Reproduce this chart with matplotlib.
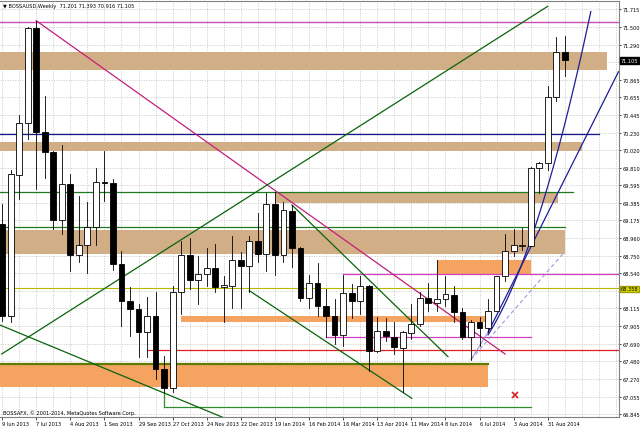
import matplotlib
matplotlib.use('Agg')
import matplotlib.pyplot as plt
from matplotlib.patches import Rectangle
import numpy as np

# ---------------- data ----------------
date_labels = ['9 Jun 2013', '7 Jul 2013', '4 Aug 2013', '1 Sep 2013', '29 Sep 2013',
               '27 Oct 2013', '24 Nov 2013', '22 Dec 2013', '19 Jan 2014', '16 Feb 2014',
               '16 Mar 2014', '13 Apr 2014', '11 May 2014', '8 Jun 2014', '6 Jul 2014',
               '3 Aug 2014', '31 Aug 2014']
date_idx = list(range(0, 65, 4))

opens = [69.13, 68.02, 69.725, 70.343, 71.486, 70.238, 69.997, 69.18, 69.613, 68.758,
         68.882, 69.099, 69.64, 69.625, 68.65, 68.208, 68.108, 67.828, 68.028, 67.387,
         67.155, 68.31, 68.762, 68.461, 68.526, 68.598, 68.37, 68.389, 68.698, 68.63,
         68.93, 68.77, 69.372, 68.758, 69.291, 68.839, 68.237, 68.418, 68.14, 68.028,
         67.796, 68.297, 68.208, 68.382, 67.60, 67.84, 67.775, 67.636, 67.816, 67.928,
         68.237, 68.181, 68.229, 68.28, 68.076, 67.768, 67.948, 67.876, 68.088, 68.502,
         68.803, 68.87, 68.87, 69.805, 69.861, 70.663, 71.201]
highs = [69.37, 69.785, 70.443, 71.50, 71.578, 70.675, 70.013, 70.085, 69.733, 69.472,
         69.40, 69.802, 70.013, 69.673, 68.81, 68.37, 68.169, 68.252, 68.313, 67.547,
         68.389, 68.93, 68.96, 68.75, 68.839, 68.891, 68.506, 68.984, 68.791, 68.99,
         69.26, 69.505, 69.513, 69.393, 69.36, 68.851, 68.52, 68.662, 68.35, 68.229,
         68.52, 68.409, 68.50, 68.398, 68.009, 67.997, 67.955, 67.847, 68.169, 68.313,
         68.42, 68.702, 68.51, 68.382, 68.117, 67.98, 68.009, 68.229, 68.51, 69.01,
         69.071, 69.08, 69.814, 69.881, 70.788, 71.385, 71.393]
lows = [67.97, 67.955, 69.43, 70.154, 69.553, 69.685, 69.07, 69.011, 68.57, 68.67,
        68.542, 68.882, 69.412, 68.582, 67.907, 67.787, 67.527, 67.534, 67.266, 67.11,
        67.105, 68.05, 68.349, 68.169, 68.389, 68.31, 67.955, 68.117, 68.117, 68.317,
        68.67, 68.57, 68.52, 68.67, 68.61, 68.208, 68.117, 68.028, 67.775, 67.687,
        67.667, 67.997, 68.05, 67.366, 67.588, 67.727, 67.567, 67.106, 67.748, 67.905,
        68.088, 68.084, 68.14, 67.955, 67.748, 67.50, 67.667, 67.828, 68.08, 68.45,
        68.75, 68.82, 68.863, 69.505, 69.785, 70.615, 70.916]
closes = [68.02, 69.735, 70.343, 71.486, 70.242, 69.997, 69.18, 69.613, 68.758, 68.882,
          69.099, 69.64, 69.625, 68.65, 68.208, 68.108, 67.828, 68.028, 67.387, 67.155,
          68.31, 68.762, 68.461, 68.526, 68.598, 68.37, 68.397, 68.702, 68.622, 68.93,
          68.77, 69.372, 68.758, 69.303, 68.839, 68.237, 68.418, 68.148, 68.02, 67.796,
          68.301, 68.208, 68.382, 67.60, 67.84, 67.78, 67.648, 67.828, 67.928, 68.237,
          68.181, 68.229, 68.29, 68.076, 67.768, 67.948, 67.876, 68.088, 68.50, 68.803,
          68.879, 68.875, 69.805, 69.865, 70.663, 71.201, 71.105]

price_ticks = [71.715, 71.500, 71.290, 71.080, 70.865, 70.655, 70.445, 70.230, 70.020,
               69.810, 69.595, 69.385, 69.175, 68.960, 68.750, 68.540, 68.325, 68.115,
               67.905, 67.690, 67.480, 67.270, 67.055, 66.845]
hidden_ticks = [71.080, 68.325]

# chart objects (bar index, price)
hline_full = [(71.566, '#C850B4', 1.0), (68.358, '#B8B800', 0.8)]
hline_seg = [  # price, start, end, colour, width
    (70.214, -1, 70.0, '#14148C', 0.9),
    (69.520, -1, 67.0, '#1E7A1E', 0.9),
    (69.095, -1, 66.0, '#1E7A1E', 0.9),
    (68.530, 40, 80, '#D040C0', 0.9),
    (67.768, 38, 62, '#D040C0', 0.9),
    (67.615, 17, 80, '#E02020', 0.9),
    (66.933, 19, 62, '#2E8B2E', 0.9),
]
tan_rects = [(71.198, 70.988, -1, 71.0), (70.115, 70.013, -1, 68.0),
             (69.513, 69.384, 32, 65.2), (69.062, 68.776, -1, 66.0)]
orange_rects = [(68.028, 67.948, 21, 57), (68.702, 68.530, 51, 62),
                (67.447, 67.166, -1, 57)]
olive_edge = (67.447, -1, 57)
trend_lines = [  # (n0, p0, n1, p1, colour)
    (4, 71.578, 59.0, 67.567, '#C0207A'),
    (-0.05, 67.567, 64.0, 71.751, '#0A640A'),
    (-0.25, 67.916, 26.0, 66.800, '#0A640A'),
    (29.0, 68.329, 48.05, 67.034, '#0A640A'),
    (34.0, 69.360, 52.3, 67.535, '#0A640A'),
]
blue_straight = (57.0, 67.828, 72.3, 70.964)
blue_curve_n = [57.0, 60.36, 62.1, 65.2, 69.05]
blue_curve_p = [67.828, 68.472, 68.870, 70.154, 71.646]
lav_solid = (55.0, 67.50, 57.0, 67.828)
lav_dashed = (55.0, 67.50, 66.0, 68.80)
red_x = (60.2, 67.074)

# ---------------- figure ----------------
W, H = 640, 427
fig = plt.figure(figsize=(6.4, 4.27), dpi=100)
ax_l, ax_r, ax_t, ax_b = 0, 619, 2, 418
ax = fig.add_axes([ax_l / W, 1 - ax_b / H, (ax_r - ax_l) / W, (ax_b - ax_t) / H])
ax.set_xlim(-0.246, 72.36)
ax.set_ylim(66.809, 71.815)
plt.rcParams['font.family'] = ['DejaVu Sans']
fs = 3.6

# grid
for p in price_ticks:
    ax.axhline(p, color='#B8B8B8', lw=0.5, ls=(0, (1.5, 2)), zorder=0)
for n in range(0, 73, 2):
    ax.axvline(n, color='#B8B8B8', lw=0.5, ls=(0, (1.5, 2)), zorder=0)

# rectangles
for top, bot, n0, n1 in tan_rects:
    ax.add_patch(Rectangle((n0, bot), n1 - n0, top - bot, color='#D2AE86', lw=0, zorder=1))
for top, bot, n0, n1 in orange_rects:
    ax.add_patch(Rectangle((n0, bot), n1 - n0, top - bot, color='#F4A460', lw=0, zorder=1))
ax.plot([olive_edge[1], olive_edge[2]], [olive_edge[0]] * 2, color='#5E7A00', lw=1.6, zorder=2)

# horizontal lines
for p, c, w in hline_full:
    ax.axhline(p, color=c, lw=w, zorder=2)
for p, n0, n1, c, w in hline_seg:
    ax.plot([n0, n1], [p, p], color=c, lw=w, zorder=2)
ax.plot([19, 19], [lows[19], 66.933], color='#2E8B2E', lw=0.9, zorder=2)

# trend lines
for n0, p0, n1, p1, c in trend_lines:
    ax.plot([n0, n1], [p0, p1], color=c, lw=0.9, zorder=2)
ax.plot([blue_straight[0], blue_straight[2]], [blue_straight[1], blue_straight[3]],
        color='#1E1E96', lw=0.9, zorder=2)
cn = np.linspace(blue_curve_n[0], blue_curve_n[-1], 60)
coef = np.polyfit(blue_curve_n, blue_curve_p, 2)
ax.plot(cn, np.polyval(coef, cn), color='#1E1E96', lw=0.9, zorder=2)
ax.plot([lav_solid[0], lav_solid[2]], [lav_solid[1], lav_solid[3]], color='#8C8CDC', lw=0.7, zorder=2)
ax.plot([lav_dashed[0], lav_dashed[2]], [lav_dashed[1], lav_dashed[3]], color='#8C8CDC',
        lw=0.7, ls=(0, (4, 3)), zorder=2)
ax.plot([red_x[0]], [red_x[1]], marker='x', color='#E02020', ms=4, mew=1.2, zorder=3)

# candles
bw = 0.68
for i, (o, h, l, c) in enumerate(zip(opens, highs, lows, closes)):
    ax.plot([i, i], [l, h], color='black', lw=0.6, zorder=4)
    bull = c >= o
    lo, hi = min(o, c), max(o, c)
    ax.add_patch(Rectangle((i - bw / 2, lo), bw, max(hi - lo, 0.004),
                           facecolor='white' if bull else 'black', edgecolor='black',
                           lw=0.6, zorder=5))

# axes styling
ax.spines['left'].set_visible(False)
for s in ['top', 'bottom', 'right']:
    ax.spines[s].set_color('#808080')
    ax.spines[s].set_linewidth(0.8)
ax.yaxis.tick_right()
ax.set_yticks(price_ticks)
ax.set_yticklabels(['' if t in hidden_ticks else f'{t:.3f}' for t in price_ticks], fontsize=fs)
ax.set_xticks(date_idx)
ax.set_xticklabels(date_labels, fontsize=fs)
for lab in ax.get_xticklabels():
    lab.set_horizontalalignment('left')
ax.tick_params(axis='y', length=1.5, width=0.5, pad=1.2, colors='black')
ax.tick_params(axis='x', length=2, width=0.5, pad=0.8, colors='black')

# price boxes on axis
def px2fig(x, y):
    return x / W, 1 - y / H
x0, y0 = px2fig(621, 61.3)
fig.text(x0, y0, f'{closes[-1]:.3f}', fontsize=fs, color='white', va='center', ha='left',
         bbox=dict(boxstyle='square,pad=0.15', fc='black', ec='black'))
x0, y0 = px2fig(621, 290)
fig.text(x0, y0, f'{hline_full[1][0]:.3f}', fontsize=fs, color='black', va='center', ha='left',
         bbox=dict(boxstyle='square,pad=0.15', fc='#D8D800', ec='#A0A000'))

x0, y0 = px2fig(3, 6.5)
fig.text(x0, y0, '\u25BC BOSSAUSD,Weekly  ' + ' '.join(f'{v:.3f}' for v in
         [opens[-1], highs[-1], lows[-1], closes[-1]]), fontsize=fs, va='center', ha='left')
x0, y0 = px2fig(3, 413)
fig.text(x0, y0, 'BOSSAFX, \u00A9 2001-2014, MetaQuotes Software Corp.', fontsize=fs,
         va='center', ha='left')

fig.savefig('out.png', dpi=100)
